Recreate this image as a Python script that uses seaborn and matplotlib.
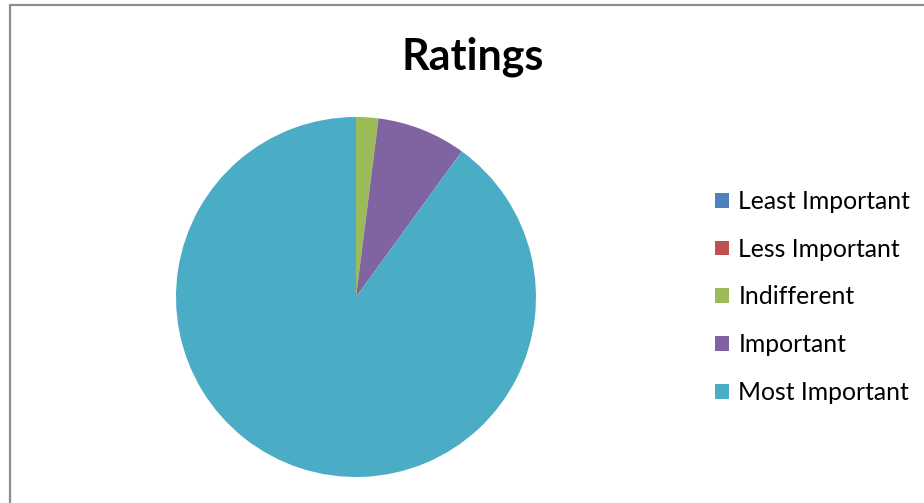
import matplotlib
matplotlib.use("Agg")
import matplotlib.pyplot as plt
import seaborn as sns
from matplotlib.patches import Patch, Rectangle

categories = ["Least Important", "Less Important", "Indifferent", "Important", "Most Important"]
values = [0, 0, 1, 4, 45]
colors = ["#4F81BD", "#C0504D", "#9BBB59", "#8064A2", "#4BACC6"]
title = "Ratings"

sns.set_theme(style="white")
plt.rcParams['font.family'] = ['Lato', 'DejaVu Sans']
plt.rcParams['text.color'] = 'black'

W, H = 924, 503
fig = plt.figure(figsize=(W / 100, H / 100), dpi=100)
fig.patch.set_facecolor("white")

# outer chart border
fig.add_artist(Rectangle((10 / W, -0.1), 1.2, 1.1 - 5.5 / H, transform=fig.transFigure,
                         fill=False, edgecolor="#8c8c8c", linewidth=1.6))

ax = fig.add_axes([176 / W, 26 / H, 360 / W, 360 / H])
wedges, _ = ax.pie(values, colors=colors, startangle=90, counterclock=False, radius=1,
                   wedgeprops=dict(linewidth=0))
ax.set_xlim(-1, 1)
ax.set_ylim(-1, 1)
ax.set_aspect("equal")
ax.axis("off")

fig.text(473 / W, 1 - 57 / H, title, ha="center", va="center", fontsize=31,
         fontweight="bold", color="black")

handles = [Patch(facecolor=c, edgecolor="none") for c in colors]
leg = fig.legend(handles, categories, loc="center left", bbox_to_anchor=(715 / W, 1 - 297 / H),
                 frameon=False, fontsize=17.8, handlelength=0.55, handleheight=0.55,
                 handletextpad=0.4, labelspacing=1.0, borderpad=0, borderaxespad=0)
for t in leg.get_texts():
    t.set_color("black")

fig.savefig("out.png", dpi=100, facecolor="white")
